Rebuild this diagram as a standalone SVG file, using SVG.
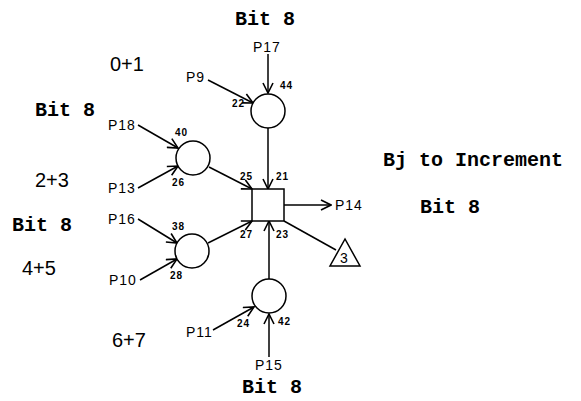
<svg xmlns="http://www.w3.org/2000/svg" width="581" height="401" viewBox="0 0 581 401">
<defs>
<marker id="ah" viewBox="0 0 12 12" refX="11" refY="6" markerWidth="12" markerHeight="12" markerUnits="userSpaceOnUse" orient="auto">
<path d="M1,1 L11,6 L1,11" fill="none" stroke="#000" stroke-width="1.6"/>
</marker>
<style>
.ln{stroke:#000;stroke-width:1.5;fill:none}
.sh{stroke:#000;stroke-width:1.5;fill:#fff}
.big{font-family:"Liberation Mono",monospace;font-weight:bold;font-size:20px;fill:#000}
.sum{font-family:"Liberation Sans",Arial,sans-serif;font-size:20px;fill:#000}
.p{font-family:"Liberation Sans",Arial,sans-serif;font-size:14px;fill:#000;letter-spacing:1px}
.n{font-family:"Liberation Sans",Arial,sans-serif;font-weight:bold;font-size:10px;fill:#000;letter-spacing:1px}
</style>
</defs>
<rect width="581" height="401" fill="#fff"/>

<g id="labels">
<text class="big" x="235" y="25">Bit 8</text>
<text class="big" x="35" y="116">Bit 8</text>
<text class="big" x="12" y="231">Bit 8</text>
<text class="big" x="242" y="393">Bit 8</text>
<text class="big" x="383" y="166">Bj to Increment</text>
<text class="big" x="420" y="213">Bit 8</text>
<text class="sum" x="110" y="71">0+1</text>
<text class="sum" x="35" y="187">2+3</text>
<text class="sum" x="22" y="275">4+5</text>
<text class="sum" x="112" y="347">6+7</text>
</g>

<g id="connectors">
<line class="ln" x1="268" y1="54" x2="268" y2="93" marker-end="url(#ah)"/>
<line class="ln" x1="208" y1="80" x2="253" y2="103" marker-end="url(#ah)"/>
<line class="ln" x1="138" y1="125" x2="178" y2="148" marker-end="url(#ah)"/>
<line class="ln" x1="138" y1="188" x2="178" y2="166" marker-end="url(#ah)"/>
<line class="ln" x1="138" y1="219" x2="177" y2="243" marker-end="url(#ah)"/>
<line class="ln" x1="140" y1="280" x2="177" y2="259" marker-end="url(#ah)"/>
<line class="ln" x1="213" y1="330" x2="254" y2="307" marker-end="url(#ah)"/>
<line class="ln" x1="269" y1="357" x2="269" y2="314" marker-end="url(#ah)"/>
<line class="ln" x1="268" y1="128" x2="268" y2="189" marker-end="url(#ah)"/>
<line class="ln" x1="209" y1="167" x2="252" y2="189" marker-end="url(#ah)"/>
<line class="ln" x1="208" y1="243" x2="252" y2="221" marker-end="url(#ah)"/>
<line class="ln" x1="269" y1="279" x2="269" y2="221" marker-end="url(#ah)"/>
<line class="ln" x1="284" y1="205" x2="331" y2="205" marker-end="url(#ah)"/>
<line class="ln" x1="284" y1="221" x2="336" y2="250"/>
</g>

<g id="top-circle">
<circle class="sh" cx="268" cy="111" r="17"/>
<text class="p" x="253" y="52">P17</text>
<text class="p" x="186" y="82">P9</text>
<text class="n" x="280" y="89">44</text>
<text class="n" x="232" y="107">22</text>
</g>

<g id="upper-left-circle">
<circle class="sh" cx="193" cy="158" r="17"/>
<text class="p" x="108" y="130">P18</text>
<text class="p" x="108" y="193">P13</text>
<text class="n" x="175" y="136">40</text>
<text class="n" x="172" y="186">26</text>
</g>

<g id="lower-left-circle">
<circle class="sh" cx="192" cy="251" r="17"/>
<text class="p" x="108" y="224">P16</text>
<text class="p" x="109" y="285">P10</text>
<text class="n" x="172" y="230">38</text>
<text class="n" x="170" y="279">28</text>
</g>

<g id="bottom-circle">
<circle class="sh" cx="269" cy="296" r="17"/>
<text class="p" x="186" y="337">P11</text>
<text class="p" x="255" y="370">P15</text>
<text class="n" x="237" y="327">24</text>
<text class="n" x="278" y="325">42</text>
</g>

<g id="square">
<rect class="sh" x="252" y="189" width="32" height="32"/>
<text class="n" x="240" y="180">25</text>
<text class="n" x="276" y="180">21</text>
<text class="n" x="240" y="238">27</text>
<text class="n" x="276" y="238">23</text>
<text class="p" x="335" y="210">P14</text>
</g>

<g id="triangle">
<polygon class="sh" points="345,239 330,266 360,266"/>
<text class="p" x="340" y="263" style="letter-spacing:0">3</text>
</g>
</svg>
